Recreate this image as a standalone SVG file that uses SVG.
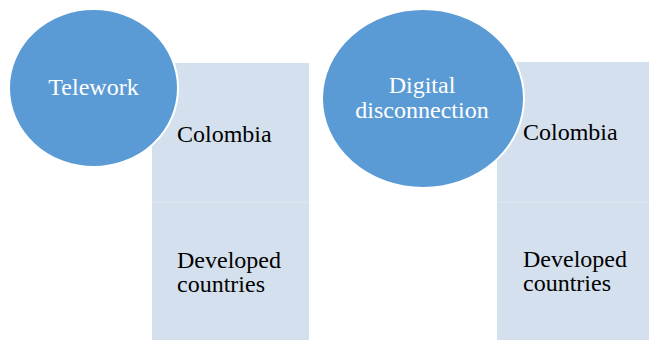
<svg xmlns="http://www.w3.org/2000/svg" width="649" height="340" viewBox="0 0 649 340">
  <style>
    .panel { fill: #D5E0EE; }
    .seam { stroke: #DDE6F2; stroke-width: 1.2; }
    .hub { fill: #5B9BD5; stroke: #FFFFFF; stroke-width: 2; }
    .hub-text, .item-text { font-family: "Liberation Serif", "Times New Roman", serif; font-size: 24px; }
    .hub-text { fill: #FFFFFF; text-anchor: middle; }
    .item-text { fill: #000000; }
  </style>
  <rect width="649" height="340" fill="#FFFFFF"/>

  <!-- Telework branch -->
  <g id="telework-list">
    <rect class="panel" x="152" y="63" width="157" height="277"/>
    <line class="seam" x1="152" y1="202.5" x2="309" y2="202.5"/>
  </g>
  <g id="telework-colombia">
    <text class="item-text" x="177" y="142">Colombia</text>
  </g>
  <g id="telework-developed">
    <text class="item-text" x="177" y="268">Developed</text>
    <text class="item-text" x="177" y="292">countries</text>
  </g>
  <g id="telework">
    <ellipse class="hub" cx="93.5" cy="88" rx="84.5" ry="79"/>
    <text class="hub-text" x="93.5" y="95">Telework</text>
  </g>

  <!-- Digital disconnection branch -->
  <g id="disconnection-list">
    <rect class="panel" x="497" y="62" width="152" height="278"/>
    <line class="seam" x1="497" y1="202.5" x2="649" y2="202.5"/>
  </g>
  <g id="disconnection-colombia">
    <text class="item-text" x="523" y="140">Colombia</text>
  </g>
  <g id="disconnection-developed">
    <text class="item-text" x="523" y="267">Developed</text>
    <text class="item-text" x="523" y="291">countries</text>
  </g>
  <g id="digital-disconnection">
    <ellipse class="hub" cx="423" cy="98.5" rx="101" ry="89.5"/>
    <text class="hub-text" x="422" y="93">Digital</text>
    <text class="hub-text" x="422" y="118">disconnection</text>
  </g>

  <!-- no connectors in this figure -->
  <g id="connectors"/>
</svg>
